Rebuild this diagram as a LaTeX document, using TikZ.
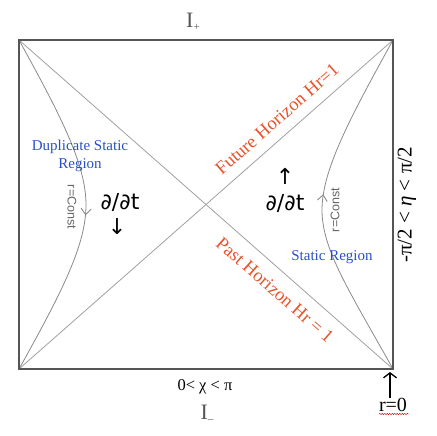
\documentclass[tikz,border=0pt]{standalone}
\usepackage{fontspec}
\setmainfont{Liberation Serif}
\newfontfamily\dejavu{DejaVu Sans}
\newfontfamily\lsans{Liberation Sans}
\usetikzlibrary{arrows.meta,decorations.markings,decorations.pathmorphing}
\definecolor{hor}{HTML}{E8532B}
\definecolor{reg}{HTML}{2B4FCB}
\definecolor{framec}{HTML}{555555}
\definecolor{thinc}{HTML}{A0A0A0}
\definecolor{curvec}{HTML}{8A8A8A}
\begin{document}
\begin{tikzpicture}[x=1pt,y=-1pt,
  framebox/.style={draw=framec,line width=1.4pt},
  diag/.style={draw=thinc,line width=0.8pt},
  rcurve/.style={draw=curvec,line width=0.8pt},
  downmark/.style={postaction={decorate},decoration={markings,
     mark=at position 0.53 with {\arrow[curvec,line width=0.9pt]{Straight Barb[length=6pt,width=10pt]}}}},
  horlabel/.style={text=hor,font=\fontsize{18.5}{19}\selectfont,inner sep=0pt},
  reglabel/.style={text=reg,font=\fontsize{15}{18}\selectfont,align=center,inner sep=0pt},
  constlabel/.style={text=black!60,font=\lsans\fontsize{12.5}{12.5}\selectfont,inner sep=0pt},
  dlabel/.style={font=\dejavu\fontsize{22}{22}\selectfont,inner sep=0pt},
  arrlabel/.style={font=\dejavu\fontsize{22}{22}\selectfont,inner sep=0pt},
  axlabel/.style={inner sep=0pt},
  scri/.style={text=framec,font=\fontsize{22}{22}\selectfont,inner sep=0pt}
]
\useasboundingbox (0,0) rectangle (436,436);
\coordinate (TL) at (19,40);
\coordinate (TR) at (393,40);
\coordinate (BR) at (393,369);
\coordinate (BL) at (19,369);
\coordinate (tip) at (390,372);

% diagonals (horizons)
\draw[diag] (TL) -- (BR);
\draw[diag] (BL) -- (TR);

% r = const curves
\draw[rcurve,downmark] (TL) .. controls (62,118) and (86,165) .. (86,205)
   .. controls (86,245) and (62,292) .. (BL);
\draw[rcurve,downmark] (BR) .. controls (350,292) and (322,250) .. (322,210)
   .. controls (322,170) and (350,118) .. (TR);

% frame
\draw[framebox] (TL) rectangle (BR);

% labels
\node[scri] (iplus) at (193,22) {I\raisebox{-3pt}{\fontsize{11}{11}\selectfont +}};
\node[scri] (iminus) at (207,414) {I\raisebox{-3pt}{\fontsize{11}{11}\selectfont \textendash}};
\node[axlabel,font=\fontsize{16.5}{16.5}\selectfont] (chi) at (205,387) {0< χ < π};
\node[axlabel,font=\fontsize{21}{21}\selectfont,rotate=90] (eta) at (407,205) {-π/2 < \textit{η} < π/2};
\node[axlabel,font=\fontsize{20}{20}\selectfont] (r0) at (393,405) {r=0};
\draw[red!80!black,line width=0.4pt,decorate,decoration={snake,amplitude=0.7pt,segment length=2.5pt}]
   ([xshift=-14pt,yshift=-9pt]r0.center) -- ([xshift=16pt,yshift=-9pt]r0.center);
\draw[line width=1.8pt,-{Straight Barb[length=5pt,width=13pt,line width=1.3pt]}] ([xshift=-3pt]r0.north) -- (tip);

\node[horlabel,rotate=41.3] (fut) at (277,119) {Future Horizon Hr=1};
\node[horlabel,rotate=-41.3] (past) at (275,290) {Past Horizon Hr = 1};

\node[reglabel] (dup) at (80,156) {Duplicate Static\\Region};
\node[reglabel] (stat) at (332,257) {Static Region};

\node[constlabel,rotate=-90] (cl) at (72,207) {r=Const};
\node[constlabel,rotate=90] (cr) at (335,210) {r=Const};

\node[dlabel] (dtl) at (120,202) {∂/∂t};
\node[arrlabel] (al) at (117,227) {↓};
\node[arrlabel] (ar) at (285,176) {↑};
\node[dlabel] (dtr) at (285,203) {∂/∂t};
\end{tikzpicture}
\end{document}
